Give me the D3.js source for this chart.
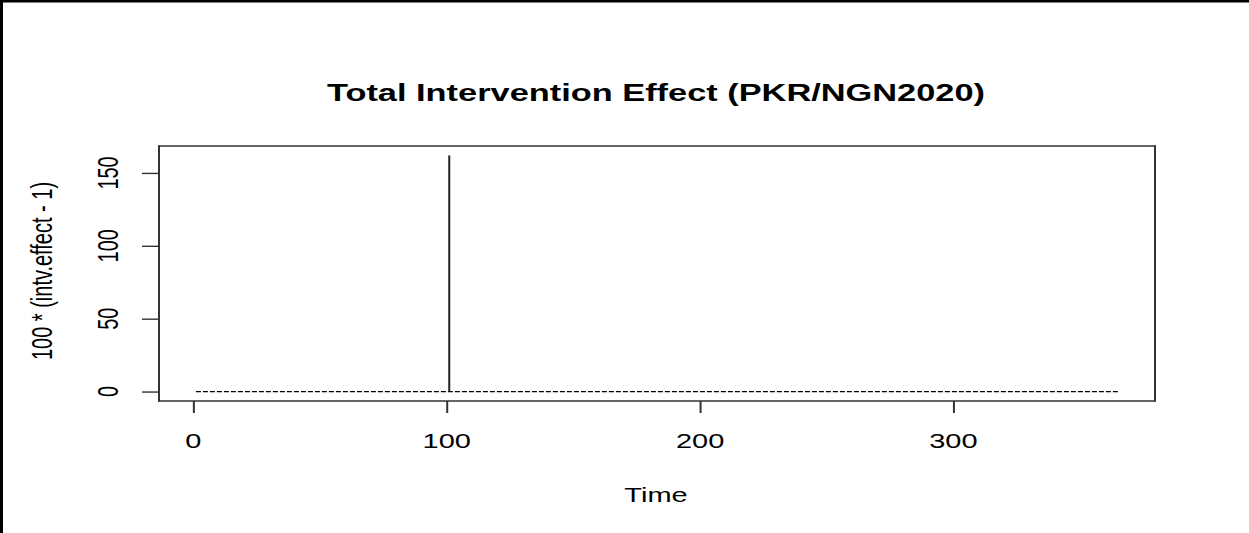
<!DOCTYPE html>
<html>
<head>
<meta charset="utf-8">
<script src="https://cdn.jsdelivr.net/npm/d3@7"></script>
<style>
  html, body { margin: 0; padding: 0; background: #fff; }
  svg { display: block; }
  text { font-family: "Liberation Sans", Arial, sans-serif; fill: #000; }
</style>
</head>
<body>
<svg id="chart" width="1249" height="533"></svg>
<script>
// ---- data ----
const titleText = "Total Intervention Effect (PKR/NGN2020)";
const xLabel = "Time";
const yLabel = "100 * (intv.effect - 1)";
const spikeTime = [101];
const spikeValue = [162];
const zeroLineTime = [1, 365];
const zeroLineValue = [0, 0];
const xTicks = [0, 100, 200, 300];
const yTicks = [0, 50, 100, 150];

// ---- layout ----
const W = 1249, H = 533;
const plot = { left: 159, right: 1155, top: 146, bottom: 401 };
const sx = 1.45; // horizontal text stretch seen in reference

const svg = d3.select("#chart");

// outer frame (top and left edges)
svg.append("line").attr("x1", 0).attr("x2", W).attr("y1", 1).attr("y2", 1)
  .attr("stroke", "#000").attr("stroke-width", 3);
svg.append("line").attr("x1", 1.5).attr("x2", 1.5).attr("y1", 0).attr("y2", H)
  .attr("stroke", "#000").attr("stroke-width", 3);

// scales (R style 4% padding)
const xMin = d3.min(zeroLineTime), xMax = d3.max(zeroLineTime);
const xPad = (xMax - xMin) * 0.04;
const yMin = Math.min(d3.min(zeroLineValue), d3.min(spikeValue));
const yMax = Math.max(d3.max(zeroLineValue), d3.max(spikeValue));
const yPad = (yMax - yMin) * 0.04;

const x = d3.scaleLinear().domain([xMin - xPad, xMax + xPad]).range([plot.left, plot.right]);
const y = d3.scaleLinear().domain([yMin - yPad, yMax + yPad]).range([plot.bottom, plot.top]);

const axisColor = "#333";

// x axis ticks
const gx = svg.append("g").attr("transform", `translate(0,${plot.bottom})`);
const xAxis = d3.axisBottom(x).tickValues(xTicks).tickSize(12).tickFormat("");
gx.call(xAxis);
gx.select(".domain").remove();
gx.selectAll(".tick line").attr("stroke", axisColor).attr("stroke-width", 2);

xTicks.forEach(t => {
  svg.append("g").attr("transform", `translate(${x(t)},448) scale(${sx},1)`)
    .append("text").attr("text-anchor", "middle").style("font-size", "20px").text(t);
});

// y axis ticks
const gy = svg.append("g").attr("transform", `translate(${plot.left},0)`);
const yAxis = d3.axisLeft(y).tickValues(yTicks).tickSize(17).tickFormat("");
gy.call(yAxis);
gy.select(".domain").remove();
gy.selectAll(".tick line").attr("stroke", axisColor).attr("stroke-width", 1.4);

yTicks.forEach(t => {
  svg.append("g").attr("transform", `translate(118,${y(t)}) scale(${sx},1) rotate(-90)`)
    .append("text").attr("text-anchor", "middle").style("font-size", "20px").text(t);
});

// plot box
svg.append("line").attr("x1", plot.left).attr("x2", plot.right).attr("y1", plot.top).attr("y2", plot.top)
  .attr("stroke", axisColor).attr("stroke-width", 1.5);
svg.append("line").attr("x1", plot.left).attr("x2", plot.right).attr("y1", plot.bottom).attr("y2", plot.bottom)
  .attr("stroke", axisColor).attr("stroke-width", 1.5);
svg.append("line").attr("x1", plot.left).attr("x2", plot.left).attr("y1", plot.top - 0.75).attr("y2", plot.bottom + 0.75)
  .attr("stroke", axisColor).attr("stroke-width", 2);
svg.append("line").attr("x1", plot.right).attr("x2", plot.right).attr("y1", plot.top - 0.75).attr("y2", plot.bottom + 0.75)
  .attr("stroke", axisColor).attr("stroke-width", 2);

// dashed zero line
const line = d3.line().x((d, i) => x(zeroLineTime[i])).y(d => y(d));
svg.append("path").datum(zeroLineValue).attr("d", line)
  .attr("fill", "none").attr("stroke", "#000").attr("stroke-width", 1.2)
  .attr("stroke-dasharray", "5,2");

// spike(s) (type = "h")
svg.selectAll("line.spike").data(spikeTime).enter().append("line")
  .attr("class", "spike")
  .attr("x1", d => x(d)).attr("x2", d => x(d))
  .attr("y1", y(0)).attr("y2", (d, i) => y(spikeValue[i]))
  .attr("stroke", "#222").attr("stroke-width", 2);

// title
svg.append("text").attr("x", 656).attr("y", 101).attr("text-anchor", "middle")
  .style("font-size", "24px").style("font-weight", "bold")
  .attr("textLength", 658).attr("lengthAdjust", "spacingAndGlyphs")
  .text(titleText);

// x label
svg.append("g").attr("transform", `translate(656,502) scale(${sx},1)`)
  .append("text").attr("text-anchor", "middle").style("font-size", "20px").text(xLabel);

// y label
svg.append("g").attr("transform", `translate(52,271) scale(${sx},1) rotate(-90)`)
  .append("text").attr("text-anchor", "middle").style("font-size", "20px").text(yLabel);
</script>
</body>
</html>
